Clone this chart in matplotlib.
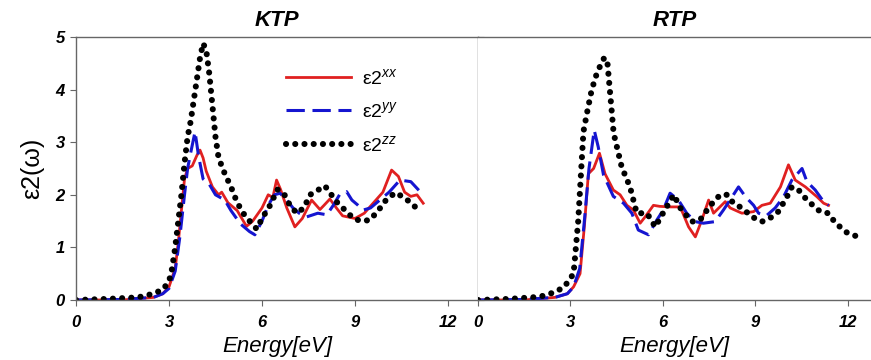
import numpy as np
import matplotlib
matplotlib.use('Agg')
import matplotlib.pyplot as plt

plt.rcParams['font.family'] = ['Liberation Sans', 'DejaVu Sans']
plt.rcParams['mathtext.fontset'] = 'custom'
plt.rcParams['mathtext.it'] = 'Liberation Sans:italic'
plt.rcParams['mathtext.rm'] = 'Liberation Sans'

# ---- KTP ----
ktp_e_xx = [0, 1.5, 2.5, 2.8, 3.0, 3.2, 3.3, 3.4, 3.5, 3.6, 3.75, 3.9, 4.0, 4.1, 4.2, 4.4, 4.6, 4.7,
            4.9, 5.2, 5.5, 5.7, 6.0, 6.2, 6.35, 6.47, 6.6, 6.8, 7.06, 7.3, 7.6, 7.87, 8.0, 8.19, 8.4,
            8.6, 9.0, 9.3, 9.6, 9.9, 10.18, 10.4, 10.6, 10.8, 11.0, 11.2]
ktp_xx = [0.0, 0.0, 0.05, 0.12, 0.25, 0.6, 1.1, 1.7, 2.3, 2.5, 2.55, 2.75, 2.85, 2.7, 2.45, 2.15, 2.0, 2.05,
          1.85, 1.7, 1.4, 1.5, 1.75, 2.0, 1.95, 2.28, 2.1, 1.75, 1.39, 1.55, 1.9, 1.72, 1.8, 1.92, 1.75,
          1.6, 1.55, 1.65, 1.85, 2.05, 2.47, 2.35, 2.05, 1.97, 2.0, 1.84]

ktp_e_yy = [0, 1.5, 2.5, 2.8, 3.0, 3.2, 3.35, 3.5, 3.6, 3.7, 3.84, 3.95, 4.1, 4.3, 4.5, 4.8, 5.0, 5.3,
            5.6, 5.77, 6.0, 6.2, 6.4, 6.58, 6.8, 7.0, 7.2, 7.44, 7.8, 8.09, 8.3, 8.5, 8.73, 8.9, 9.1,
            9.26, 9.5, 9.8, 10.1, 10.45, 10.8, 11.1, 11.2]
ktp_yy = [0.0, 0.01, 0.05, 0.12, 0.22, 0.55, 1.2, 2.0, 2.5, 2.8, 3.2, 2.75, 2.3, 2.2, 2.0, 1.9, 1.7, 1.45,
          1.3, 1.24, 1.5, 1.8, 2.0, 2.03, 1.9, 1.75, 1.65, 1.58, 1.65, 1.62, 1.8, 2.0, 2.06, 1.9, 1.8,
          1.71, 1.75, 1.9, 2.05, 2.28, 2.25, 2.06, 2.02]

ktp_e_zz = [0, 1.0, 2.0, 2.5, 2.8, 3.0, 3.1, 3.2, 3.3, 3.4, 3.5, 3.6, 3.7, 3.8, 3.9, 4.0, 4.1, 4.2,
            4.3, 4.4, 4.5, 4.6, 4.8, 5.0, 5.2, 5.45, 5.83, 6.0, 6.26, 6.5, 6.7, 6.9, 7.12, 7.35, 7.55,
            8.03, 8.4, 8.95, 9.2, 9.48, 9.75, 10.0, 10.3, 10.55, 10.8, 11.1]
ktp_zz = [0.0, 0.02, 0.05, 0.12, 0.2, 0.35, 0.6, 1.0, 1.5, 2.0, 2.6, 3.1, 3.4, 3.8, 4.2, 4.6, 4.88, 4.75,
          4.3, 3.7, 3.1, 2.7, 2.4, 2.15, 1.85, 1.6, 1.35, 1.55, 1.8, 2.1, 2.03, 1.8, 1.65, 1.75, 2.0,
          2.17, 1.87, 1.55, 1.5, 1.52, 1.7, 1.9, 2.04, 1.96, 1.85, 1.68]

# ---- RTP ----
rtp_e_xx = [0, 1.5, 2.5, 2.9, 3.1, 3.31, 3.45, 3.58, 3.75, 3.94, 4.12, 4.39, 4.61, 4.83, 5.04, 5.26, 5.42,
            5.69, 5.9, 6.23, 6.56, 6.83, 7.05, 7.26, 7.48, 7.64, 8.02, 8.18, 8.56, 8.94, 9.21, 9.48,
            9.81, 10.07, 10.29, 10.62, 11.0, 11.21, 11.37]
rtp_xx = [0.0, 0.0, 0.05, 0.12, 0.25, 0.5, 1.4, 2.4, 2.5, 2.79, 2.4, 2.09, 2.0, 1.8, 1.71, 1.46, 1.58,
          1.8, 1.78, 1.77, 1.77, 1.39, 1.2, 1.52, 1.9, 1.65, 1.87, 1.75, 1.65, 1.68, 1.8, 1.84,
          2.15, 2.57, 2.28, 2.15, 1.96, 1.84, 1.8]

rtp_e_yy = [0, 1.5, 2.5, 2.9, 3.1, 3.3, 3.45, 3.6, 3.77, 3.9, 4.07, 4.39, 4.72, 4.99, 5.2, 5.53, 5.8,
            6.0, 6.23, 6.5, 6.77, 7.05, 7.31, 7.69, 7.96, 8.24, 8.45, 8.68, 8.94, 9.1, 9.35, 9.64,
            9.91, 10.18, 10.51, 10.67, 10.94, 11.21, 11.37]
rtp_yy = [0.0, 0.01, 0.05, 0.12, 0.25, 0.6, 1.5, 2.5, 3.23, 2.91, 2.38, 1.97, 1.84, 1.65, 1.33, 1.24, 1.52,
          1.7, 2.03, 1.9, 1.65, 1.49, 1.46, 1.49, 1.71, 1.96, 2.15, 1.96, 1.8, 1.65, 1.6, 1.75,
          1.96, 2.28, 2.5, 2.25, 2.09, 1.87, 1.8]

rtp_e_zz = [0, 1.0, 2.0, 2.5, 2.8, 3.1, 3.25, 3.42, 3.55, 3.69, 3.85, 4.0, 4.1, 4.2, 4.4, 4.66, 4.93,
            5.15, 5.48, 5.75, 6.0, 6.35, 6.6, 6.94, 7.2, 7.43, 7.64, 7.86, 8.1, 8.28, 8.56, 8.89,
            9.21, 9.48, 9.74, 10.02, 10.18, 10.4, 10.67, 11.1, 11.36, 11.6, 11.97, 12.24]
rtp_zz = [0.0, 0.02, 0.06, 0.15, 0.25, 0.5, 1.5, 3.2, 3.6, 4.0, 4.3, 4.5, 4.61, 4.5, 3.17, 2.53, 2.15,
          1.65, 1.65, 1.39, 1.65, 2.0, 1.71, 1.49, 1.52, 1.71, 1.87, 2.0, 2.0, 1.84, 1.75, 1.58,
          1.49, 1.56, 1.68, 1.96, 2.15, 2.09, 1.9, 1.68, 1.65, 1.46, 1.28, 1.22]

labels = [r'ε2$^{xx}$', r'ε2$^{yy}$', r'ε2$^{zz}$']
titles = ['KTP', 'RTP']
xticks = [0, 3, 6, 9, 12]
yticks = [0, 1, 2, 3, 4, 5]

fig = plt.figure(figsize=(8.71, 3.60), dpi=100)
ax1 = fig.add_axes([76/871, 60/360, 402/871, 263/360])
ax2 = fig.add_axes([478/871, 60/360, 393/871, 263/360])

panels = [(ax1, ktp_e_xx, ktp_xx, ktp_e_yy, ktp_yy, ktp_e_zz, ktp_zz, 402/31.0),
          (ax2, rtp_e_xx, rtp_xx, rtp_e_yy, rtp_yy, rtp_e_zz, rtp_zz, 393/30.83)]

spine_col = '#666666'
for i, (ax, ex, xx, ey, yy, ez, zz, xmax) in enumerate(panels):
    ax.plot(ex, xx, color='#e02020', lw=2.0, label=labels[0])
    ax.plot(ey, yy, color='#1515d0', lw=2.2, dashes=(6, 2.5), label=labels[1])
    ax.plot(ez, zz, color='black', lw=4.4, linestyle=(0, (0.01, 1.5)),
            dash_capstyle='round', label=labels[2])
    ax.set_xlim(0, xmax)
    ax.set_ylim(0, 5)
    ax.set_xticks(xticks)
    ax.set_yticks(yticks)
    for s in ax.spines.values():
        s.set_color(spine_col)
        s.set_linewidth(1.0)
    ax.tick_params(axis='x', direction='out', length=4, color=spine_col, pad=7)
    for lab in ax.get_xticklabels():
        lab.set_fontweight('bold')
        lab.set_fontstyle('italic')
        lab.set_fontsize(12)
    ax.set_xlabel('Energy[eV]', fontsize=16, fontstyle='italic', labelpad=4)
    ax.set_title(titles[i], fontsize=16, fontweight='bold', fontstyle='italic', pad=8)

# left panel y axis
ax1.tick_params(axis='y', direction='out', length=4, color=spine_col, pad=4,
                right=True)
for lab in ax1.get_yticklabels():
    lab.set_fontweight('bold')
    lab.set_fontstyle('italic')
    lab.set_fontsize(12)
ax1.set_ylabel('ε2(ω)', fontsize=18, labelpad=8)
ax2.tick_params(axis='y', left=False, labelleft=False)
ax2.spines['right'].set_visible(False)
ax2.spines['left'].set_visible(False)

leg = ax1.legend(loc='upper left', bbox_to_anchor=(0.48, 0.95), frameon=False,
                 fontsize=14, handlelength=3.3, labelspacing=0.7, handletextpad=0.6)

fig.savefig('out.png', dpi=100)
